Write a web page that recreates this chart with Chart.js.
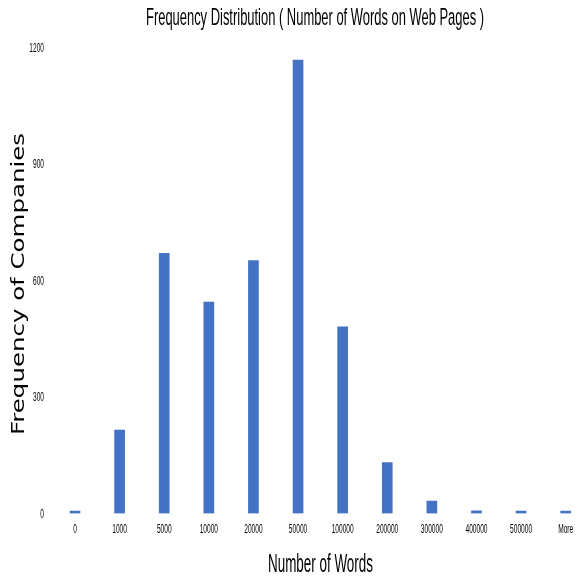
<!DOCTYPE html>
<html>
<head>
<meta charset="utf-8">
<script src="https://cdn.jsdelivr.net/npm/chart.js@4"></script>
<style>
  html, body { margin: 0; padding: 0; background: #fff; overflow: hidden; }
  #grafico { display: block; }
</style>
</head>
<body>
<canvas id="grafico" width="590" height="583"></canvas>
<script>
// Categorías (número de palabras) y frecuencias
const categorias = ['0', '1000', '5000', '10000', '20000', '50000', '100000', '200000', '300000', '400000', '500000', 'More'];
const frecuencias = [6, 215, 671, 545, 652, 1169, 481, 131, 32, 7, 6, 6];
const ticksY = [0, 300, 600, 900, 1200];

const titulo = 'Frequency Distribution ( Number of Words on Web Pages )';
const tituloX = 'Number of Words';
const tituloY = 'Frequency of Companies';

// Dibuja un texto comprimido horizontalmente (la fuente del original es muy estrecha)
function textoEscalado(ctx, texto, x, y, fuente, escala, opciones) {
    opciones = opciones || {};
    ctx.save();
    ctx.font = fuente;
    ctx.fillStyle = '#000';
    ctx.textAlign = opciones.align || 'center';
    ctx.textBaseline = 'alphabetic';
    ctx.translate(x, y);
    if (opciones.rot) ctx.rotate(opciones.rot);
    let sx = escala;
    if (opciones.ancho) sx = opciones.ancho / ctx.measureText(texto).width;
    ctx.scale(sx, 1);
    ctx.fillText(texto, 0, 0);
    ctx.restore();
}

const fuenteTicks = "12px 'Liberation Sans', Arial, sans-serif";

const textosPlugin = {
    id: 'textosPlugin',
    afterDraw(chart) {
        const ctx = chart.ctx;
        const ejeX = chart.scales.x;
        const ejeY = chart.scales.y;

        // Etiquetas del eje X
        ejeX.ticks.forEach((t, i) => {
            textoEscalado(ctx, categorias[i], ejeX.getPixelForTick(i), 533, fuenteTicks, 0.55);
        });
        // Etiquetas del eje Y, alineadas a la derecha
        ejeY.ticks.forEach((t) => {
            textoEscalado(ctx, String(t.value), 44, ejeY.getPixelForValue(t.value) + 4,
                fuenteTicks, 0.55, { align: 'right' });
        });

        // Títulos
        textoEscalado(ctx, titulo, 315, 25, "24px 'Liberation Sans', Arial, sans-serif", 1, { ancho: 338 });
        textoEscalado(ctx, tituloX, 320.5, 572, "25px 'Liberation Sans', Arial, sans-serif", 1, { ancho: 105 });
        textoEscalado(ctx, tituloY, 24, 284, "18px 'DejaVu Sans', Verdana, sans-serif", 1,
            { ancho: 302, rot: -Math.PI / 2 });
    }
};

const ctx = document.getElementById('grafico').getContext('2d');
new Chart(ctx, {
    type: 'bar',
    data: {
        labels: categorias,
        datasets: [{
            label: 'Frecuencia',
            data: frecuencias,
            backgroundColor: '#4472C4',
            borderWidth: 0,
            barThickness: 10
        }]
    },
    options: {
        responsive: false,
        animation: false,
        layout: { padding: { left: 0, right: 2, top: 48, bottom: 0 } },
        plugins: {
            legend: { display: false },
            tooltip: { enabled: false },
            title: { display: false }
        },
        scales: {
            x: {
                grid: { display: false },
                border: { display: false },
                ticks: { display: false },
                afterFit: (eje) => { eje.height = 69.5; }
            },
            y: {
                min: 0,
                max: 1200,
                afterBuildTicks: (eje) => { eje.ticks = ticksY.map(v => ({ value: v })); },
                grid: { display: false },
                border: { display: false },
                ticks: { display: false },
                afterFit: (eje) => { eje.width = 52.7; }
            }
        }
    },
    plugins: [textosPlugin]
});
</script>
</body>
</html>
